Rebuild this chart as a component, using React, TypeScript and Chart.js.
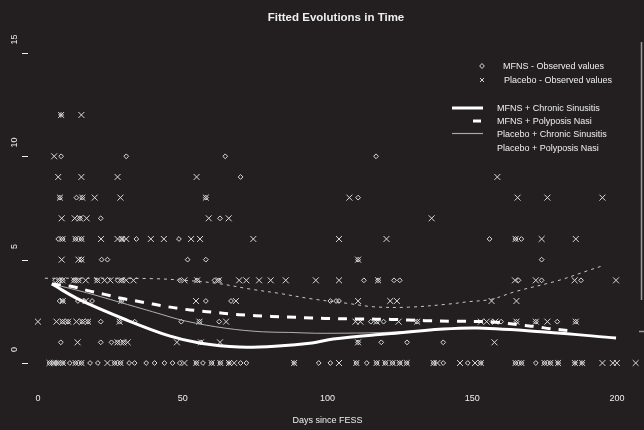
import React, { useEffect, useRef } from "react";
import { Chart, registerables } from "chart.js";

Chart.register(...registerables);

// ---- Observed values (day since FESS, symptom score) ----
const mfnsDays = [
  8, 8, 30.5, 64.7, 116.8,
  70,
  7.6, 13.3, 15.3, 58, 110.6,
  14.5, 21.7, 62.9,
  7, 8.5, 13, 15, 29, 34, 48.7, 156, 165, 167,
  15, 22, 24, 51.7, 58, 110.6, 174,
  6, 7.5, 8.5, 12.5, 14, 20.5, 27.5, 29, 49, 55, 61, 62.5, 112.6, 117.5, 123, 125, 166, 174, 187.6,
  7.5, 8.6, 13.8, 16, 18.7, 28.8, 58, 66.7, 101, 103, 104,
  8.5, 10.4, 15.3, 17.3, 21.7, 28.2, 33.4, 49.5, 55.8, 62.6, 115, 117, 119.4, 131, 157, 160, 165.3, 172, 179.4, 185.8,
  7.9, 21.7, 25.4, 27.5, 29.5, 56.3, 110.6, 118.6, 127.5, 140,
  4, 5.5, 7, 8.6, 11, 13, 15, 18, 20.7, 26.5, 28.5, 31.5, 33.4, 37.4, 40.3, 43.7, 46.5, 49, 54.7, 57, 60, 63, 66, 70, 72,
  88.5, 97, 101, 110, 113.6, 117, 120, 122.5, 125, 127.4, 136.7, 140, 148.5, 153, 165, 167, 172, 175, 177, 179.7, 185.5, 188, 198.6,
];
const mfnsScores = [
  12, 10, 10, 10, 10,
  9,
  8, 8, 8, 8, 8,
  7, 7, 7,
  6, 6, 6, 6, 6, 6, 6, 6, 6, 6,
  5, 5, 5, 5, 5, 5, 5,
  4, 4, 4, 4, 4, 4, 4, 4, 4, 4, 4, 4, 4, 4, 4, 4, 4, 4, 4,
  3, 3, 3, 3, 3, 3, 3, 3, 3, 3, 3,
  2, 2, 2, 2, 2, 2, 2, 2, 2, 2, 2, 2, 2, 2, 2, 2, 2, 2, 2, 2,
  1, 1, 1, 1, 1, 1, 1, 1, 1, 1,
  0, 0, 0, 0, 0, 0, 0, 0, 0, 0, 0, 0, 0, 0, 0, 0, 0, 0, 0, 0, 0, 0, 0, 0, 0,
  0, 0, 0, 0, 0, 0, 0, 0, 0, 0, 0, 0, 0, 0, 0, 0, 0, 0, 0, 0, 0, 0,
];

const placeboDays = [
  8, 15,
  5.6,
  7, 15, 27.5, 54.8, 158.7,
  7.6, 15.3, 19.6, 28.5, 58, 107.6, 165.7, 176, 195,
  8.2, 12.7, 14.5, 16.8, 59, 65.9, 136,
  8.5, 13, 15, 21.8, 27.5, 29, 30.5, 39, 43.5, 52.9, 56, 74.4, 104, 120.4, 165, 174, 185.8,
  8.2, 14, 15, 110.6,
  7.5, 8.5, 12.5, 14, 16.5, 20.5, 23, 25, 29, 30.5, 33, 50.6, 55, 62.5, 69.5, 72, 76.4, 80.4, 85.6, 96, 104, 117.5, 164.8, 172, 185.4, 199.7,
  8.6, 16.5, 28.8, 54.6, 68.4, 110.6, 121.7, 124, 156.7, 165.3,
  0, 6.4, 8.5, 10.4, 13.3, 15.3, 17.3, 28.2, 55.8, 65, 109.7, 111.4, 117, 124.6, 131, 153, 155, 158, 165.3, 172, 176, 185.8,
  13.7, 27.5, 29.5, 31, 48, 56.3, 62.9, 110.6, 157.7,
  4, 5.5, 7, 8.6, 13, 15, 24, 26.5, 28.5, 50.6, 54.7, 60, 63, 66, 67.8, 88.5, 104, 110, 117, 120,
  122.5, 125, 127.4, 136.7, 138, 145.8, 151, 153, 165, 167, 175, 177, 179.7, 185.5, 188, 195, 198.6, 200, 206.5,
];
const placeboScores = [
  12, 12,
  10,
  9, 9, 9, 9, 9,
  8, 8, 8, 8, 8, 8, 8, 8, 8,
  7, 7, 7, 7, 7, 7, 7,
  6, 6, 6, 6, 6, 6, 6, 6, 6, 6, 6, 6, 6, 6, 6, 6, 6,
  5, 5, 5, 5,
  4, 4, 4, 4, 4, 4, 4, 4, 4, 4, 4, 4, 4, 4, 4, 4, 4, 4, 4, 4, 4, 4, 4, 4, 4, 4,
  3, 3, 3, 3, 3, 3, 3, 3, 3, 3,
  2, 2, 2, 2, 2, 2, 2, 2, 2, 2, 2, 2, 2, 2, 2, 2, 2, 2, 2, 2, 2, 2,
  1, 1, 1, 1, 1, 1, 1, 1, 1,
  0, 0, 0, 0, 0, 0, 0, 0, 0, 0, 0, 0, 0, 0, 0, 0, 0, 0, 0, 0,
  0, 0, 0, 0, 0, 0, 0, 0, 0, 0, 0, 0, 0, 0, 0, 0, 0, 0, 0,
];

// ---- Fitted curves ----
const mfnsChronicDays = [4.8, 14.5, 30.6, 45.4, 55.8, 69.5, 83, 94.7, 102, 120, 140, 152, 175, 199.7];
const mfnsChronicFit = [3.82, 3.05, 2.08, 1.31, 0.97, 0.77, 0.82, 0.97, 1.16, 1.4, 1.64, 1.69, 1.5, 1.21];

const mfnsPolyposisDays = [4.8, 12.2, 17.3, 23, 28.8, 34, 39.7, 44.9, 49.5, 55.8, 61, 66.7, 72.3, 78, 83.3, 89, 94.7, 100.5, 111.4, 122, 133.8, 144, 154.5, 160, 166.5, 172, 177, 184];
const mfnsPolyposisFit = [3.82, 3.69, 3.5, 3.32, 3.13, 3.0, 2.85, 2.72, 2.62, 2.52, 2.45, 2.37, 2.31, 2.27, 2.24, 2.21, 2.18, 2.15, 2.13, 2.11, 2.05, 2.02, 2.0, 1.95, 1.84, 1.76, 1.66, 1.56];

const placeboChronicDays = [5.3, 16.8, 28, 39.6, 51, 65, 77.5, 87, 96, 110, 118, 130, 145, 155];
const placeboChronicFit = [3.81, 3.4, 2.95, 2.48, 2.03, 1.68, 1.51, 1.48, 1.44, 1.45, 1.47, 1.55, 1.66, 1.68];

const placeboPolyposisDays = [2.4, 20, 40, 50.6, 62, 73.6, 83.3, 94.7, 106.7, 116, 128, 141.8, 149, 156.6, 164.8, 180, 190, 195];
const placeboPolyposisFit = [4.1, 4.1, 4.08, 4.0, 3.85, 3.57, 3.37, 3.1, 2.89, 2.72, 2.7, 2.85, 2.97, 3.08, 3.45, 4.0, 4.47, 4.7];

const xTicks = [0, 50, 100, 150, 200];
const yTicks = [0, 5, 10, 15];

const titleText = "Fitted Evolutions in Time";
const xTitle = "Days since FESS";
const legendObserved = ["MFNS - Observed values", "Placebo - Observed values"];
const legendFits = ["MFNS + Chronic Sinusitis", "MFNS + Polyposis Nasi", "Placebo + Chronic Sinusitis", "Placebo + Polyposis Nasi"];

const BG = "#231f20";
const FG = "#efefef";
const PT = "#d8d8d8";
const FONT = "'Liberation Sans', Arial, Helvetica, sans-serif";

const toXY = (xs: number[], ys: number[]) => xs.map((x, i) => ({ x, y: ys[i] }));

const decorPlugin = {
  id: "decor",
  beforeDraw(chart: any) {
    const ctx = chart.ctx;
    ctx.save();
    ctx.fillStyle = BG;
    ctx.fillRect(0, 0, chart.width, chart.height);
    ctx.restore();
  },
  afterDraw(chart: any) {
    const ctx = chart.ctx;
    const xs = chart.scales.x;
    const ys = chart.scales.y;
    ctx.save();
    ctx.fillStyle = FG;
    ctx.strokeStyle = FG;
    // title
    ctx.font = `bold 11.5px ${FONT}`;
    ctx.textAlign = "center";
    ctx.textBaseline = "middle";
    ctx.fillText(titleText, 336, 18);
    // x tick labels
    ctx.font = `9px ${FONT}`;
    xTicks.forEach((t) => {
      ctx.fillText(String(t), xs.getPixelForValue(t), 399);
    });
    // x title
    ctx.fillText(xTitle, xs.getPixelForValue(100), 421);
    // y ticks + labels
    ctx.lineWidth = 1;
    yTicks.forEach((t) => {
      const y = Math.round(ys.getPixelForValue(t)) + 0.5;
      ctx.beginPath();
      ctx.moveTo(22, y);
      ctx.lineTo(28, y);
      ctx.stroke();
      ctx.save();
      ctx.translate(15, y - 14);
      ctx.rotate(-Math.PI / 2);
      ctx.fillText(String(t), 0, 0);
      ctx.restore();
    });
    // right border
    ctx.strokeStyle = "#9a9a9a";
    ctx.lineWidth = 1.5;
    ctx.beginPath();
    ctx.moveTo(641.5, 42);
    ctx.lineTo(641.5, 300);
    ctx.stroke();
    ctx.beginPath();
    ctx.moveTo(639, 331.5);
    ctx.lineTo(644, 331.5);
    ctx.stroke();

    // legend
    ctx.strokeStyle = PT;
    ctx.lineWidth = 1;
    ctx.beginPath();
    ctx.moveTo(482, 63.5);
    ctx.lineTo(484.3, 66);
    ctx.lineTo(482, 68.5);
    ctx.lineTo(479.7, 66);
    ctx.closePath();
    ctx.stroke();
    ctx.beginPath();
    ctx.moveTo(480, 78);
    ctx.lineTo(484, 82);
    ctx.moveTo(484, 78);
    ctx.lineTo(480, 82);
    ctx.stroke();
    ctx.fillStyle = FG;
    ctx.textAlign = "left";
    ctx.font = `9px ${FONT}`;
    ctx.fillText(legendObserved[0], 503, 67);
    ctx.fillText(legendObserved[1], 504, 81);

    ctx.strokeStyle = "#ffffff";
    ctx.lineWidth = 3;
    ctx.beginPath();
    ctx.moveTo(452, 108);
    ctx.lineTo(483, 108);
    ctx.stroke();
    ctx.beginPath();
    ctx.moveTo(473, 121);
    ctx.lineTo(481, 121);
    ctx.stroke();
    ctx.strokeStyle = "#a8a8a8";
    ctx.lineWidth = 1.2;
    ctx.beginPath();
    ctx.moveTo(452, 133.5);
    ctx.lineTo(483, 133.5);
    ctx.stroke();
    ctx.fillText(legendFits[0], 497, 109);
    ctx.fillText(legendFits[1], 497, 122);
    ctx.fillText(legendFits[2], 497, 135);
    ctx.fillText(legendFits[3], 497, 149);
    ctx.restore();
  },
};

export default function App() {
  const ref = useRef<HTMLCanvasElement | null>(null);
  useEffect(() => {
    if (!ref.current) return;
    const chart = new Chart(ref.current, {
      type: "scatter",
      data: {
        datasets: [
          {
            type: "line",
            label: legendFits[0],
            data: toXY(mfnsChronicDays, mfnsChronicFit),
            borderColor: "#ffffff",
            borderWidth: 3,
            pointRadius: 0,
            tension: 0.35,
            fill: false,
          },
          {
            type: "line",
            label: legendFits[1],
            data: toXY(mfnsPolyposisDays, mfnsPolyposisFit),
            borderColor: "#ffffff",
            borderWidth: 3,
            borderDash: [9, 8],
            pointRadius: 0,
            tension: 0.35,
            fill: false,
          },
          {
            type: "line",
            label: legendFits[2],
            data: toXY(placeboChronicDays, placeboChronicFit),
            borderColor: "#b0b0b0",
            borderWidth: 1,
            pointRadius: 0,
            tension: 0.35,
            fill: false,
          },
          {
            type: "line",
            label: legendFits[3],
            data: toXY(placeboPolyposisDays, placeboPolyposisFit),
            borderColor: "#c8c8c8",
            borderWidth: 1,
            borderDash: [3, 4],
            pointRadius: 0,
            tension: 0.35,
            fill: false,
          },
          {
            label: legendObserved[0],
            data: toXY(mfnsDays, mfnsScores),
            pointStyle: "rectRot",
            pointRadius: 2.4,
            borderColor: PT,
            backgroundColor: "rgba(0,0,0,0)",
            borderWidth: 1,
          },
          {
            label: legendObserved[1],
            data: toXY(placeboDays, placeboScores),
            pointStyle: "crossRot",
            pointRadius: 4.2,
            borderColor: PT,
            backgroundColor: PT,
            borderWidth: 1,
          },
        ],
      },
      options: {
        responsive: false,
        animation: false,
        events: [],
        layout: { padding: { left: 25, right: 3, top: 30, bottom: 40 } },
        plugins: {
          legend: { display: false },
          title: { display: false },
          tooltip: { enabled: false },
        },
        scales: {
          x: { type: "linear", min: -4.475, max: 207.57, display: false },
          y: { type: "linear", min: -1.306, max: 16.11, display: false },
        },
      },
      plugins: [decorPlugin],
    });
    return () => chart.destroy();
  }, []);
  return (
    <div style={{ position: "fixed", left: 0, top: 0, width: 644, height: 430, background: BG }}>
      <canvas ref={ref} width={644} height={430} style={{ display: "block" }} />
    </div>
  );
}
